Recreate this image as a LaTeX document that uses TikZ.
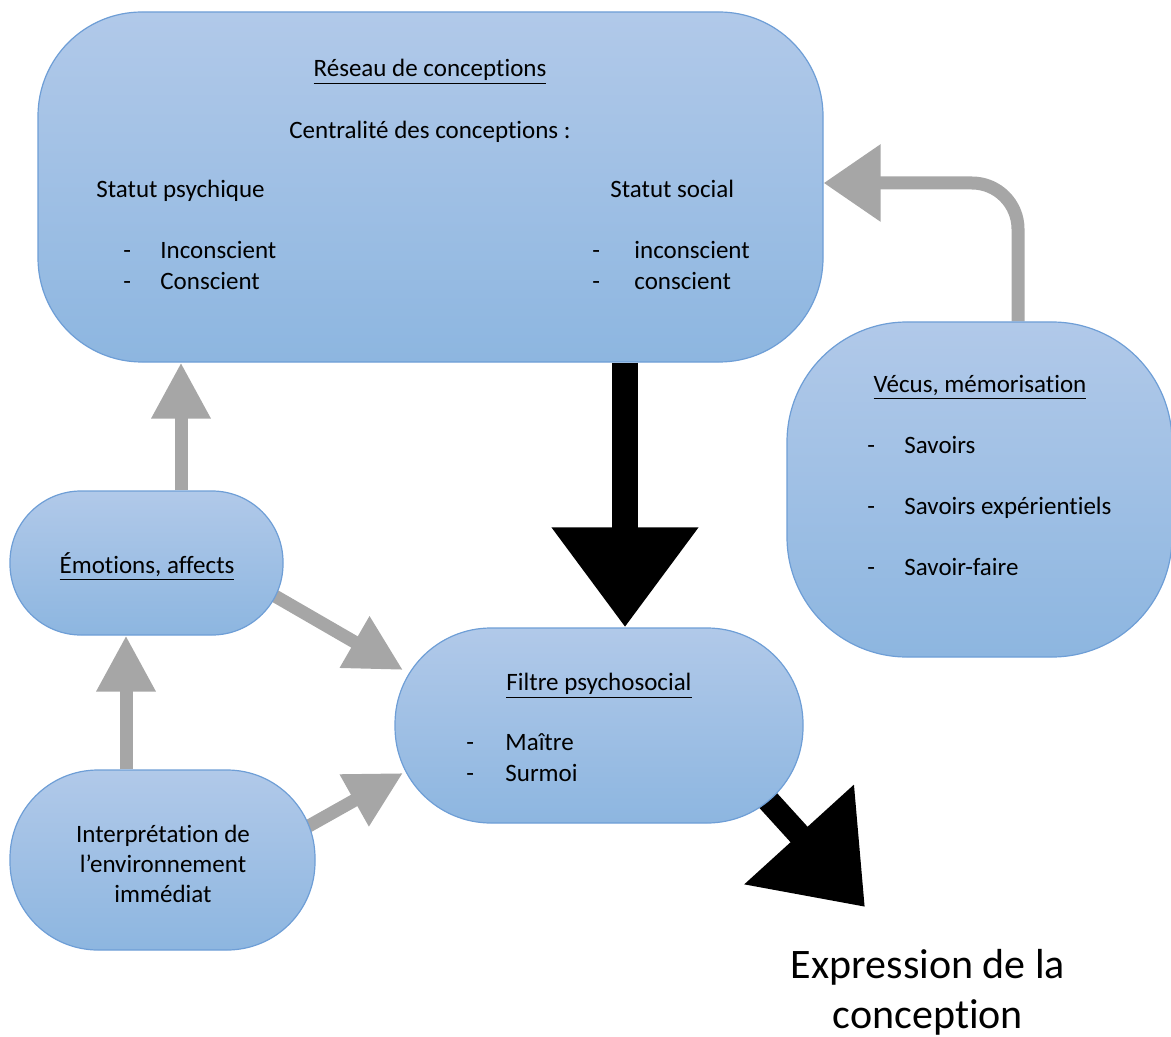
\documentclass[tikz,border=0pt]{standalone}
\usepackage{fontspec}
\setmainfont{Carlito}[Ligatures=NoCommon]
\usetikzlibrary{arrows.meta,backgrounds}
\definecolor{boxtop}{RGB}{177,201,233}
\definecolor{boxbot}{RGB}{141,182,224}
\definecolor{boxline}{RGB}{110,158,214}
\definecolor{arrgray}{RGB}{166,166,166}
\begin{document}
\begin{tikzpicture}[x=0.5pt,y=-0.5pt,
  box/.style={draw=boxline, line width=0.6pt, top color=boxtop, bottom color=boxbot, inner sep=0pt},
  txt/.style={font=\fontsize{12.5}{15.5}\selectfont, inner sep=0pt, text=black, yshift=-2pt},
  garrow/.style={draw=arrgray, line width=6.5pt, -{Triangle[width=28pt,length=28pt]}},
  garrowwide/.style={draw=arrgray, line width=6.5pt, -{Triangle[width=37pt,length=28.5pt]}},
  barrow/.style={draw=black, line width=13pt, -{Triangle[width=70pt,length=50pt]}},
  barrowdiag/.style={draw=black, line width=11.5pt, -{Triangle[width=71pt,length=49pt]}}]
\useasboundingbox (0,0) rectangle (1171,1037);

% boxes
\node[box, minimum width=392.5pt, minimum height=175pt, rounded corners=52pt] (res) at (430.5,187) {};
\node[box, minimum width=136.5pt, minimum height=72pt, rounded corners=35.5pt] (emo) at (146.5,563) {};
\node[box, minimum width=152.5pt, minimum height=90pt, rounded corners=44pt] (int) at (162.5,860) {};
\node[box, minimum width=204pt, minimum height=97.5pt, rounded corners=48pt] (fil) at (599,725.5) {};
\node[box, minimum width=192.5pt, minimum height=167.5pt, rounded corners=60pt] (vec) at (979.5,489.5) {};

% texts: Reseau
\node[txt, anchor=mid] (r1) at (430,68) {\underline{Réseau de conceptions}};
\node[txt, anchor=mid] (r2) at (430,130) {Centralité des conceptions :};
\node[txt, anchor=mid west] (r3) at (96,189) {Statut psychique};
\node[txt, anchor=mid west] (r4) at (610,189) {Statut social};
\node[txt, anchor=mid west] (r5) at (123,250) {-};
\node[txt, anchor=mid west] (r6) at (160,250) {Inconscient};
\node[txt, anchor=mid west] (r7) at (123,281) {-};
\node[txt, anchor=mid west] (r8) at (160,281) {Conscient};
\node[txt, anchor=mid west] (r9) at (592,250) {-};
\node[txt, anchor=mid west] (r10) at (634,250) {inconscient};
\node[txt, anchor=mid west] (r11) at (592,281) {-};
\node[txt, anchor=mid west] (r12) at (634,281) {conscient};

% texts: Emotions
\node[txt, anchor=mid] (e1) at (147,565) {\underline{Émotions, affects}};

% texts: Interpretation
\node[txt, align=center, font=\fontsize{12.5}{15}\selectfont] (i1) at (163,860) {Interprétation de\\l’environnement\\immédiat};

% texts: Filtre
\node[txt, anchor=mid] (f1) at (599,682) {\underline{Filtre psychosocial}};
\node[txt, anchor=mid west] (f2) at (466,742) {-};
\node[txt, anchor=mid west] (f3) at (505,742) {Maître};
\node[txt, anchor=mid west] (f4) at (466,773) {-};
\node[txt, anchor=mid west] (f5) at (505,773) {Surmoi};

% texts: Vecus
\node[txt, anchor=mid] (v1) at (980,384) {\underline{Vécus, mémorisation}};
\node[txt, anchor=mid west] (v2) at (867,445) {-};
\node[txt, anchor=mid west] (v3) at (904,445) {Savoirs};
\node[txt, anchor=mid west] (v4) at (867,506) {-};
\node[txt, anchor=mid west] (v5) at (904,506) {Savoirs expérientiels};
\node[txt, anchor=mid west] (v6) at (867,567) {-};
\node[txt, anchor=mid west] (v7) at (904,567) {Savoir-faire};

% expression
\node[font=\fontsize{21}{25}\selectfont, align=center, inner sep=0pt] (expr) at (928,992) {Expression de la\\conception};

% connector coordinates
\coordinate (a1) at (181,0);
\coordinate (a2) at (126,0);
\coordinate (a5) at (625,0);
\coordinate (a7) at (1018,183);
\coordinate (e3s) at (268,592);
\coordinate (e3t) at (403,670);
\coordinate (e4s) at (298,832);
\coordinate (e4t) at (403,773);
\coordinate (e6s) at (765,797);
\coordinate (e6t) at (865,907);

\begin{scope}[on background layer]
\draw[garrow] (emo.north -| a1) -- (res.south -| a1);
\draw[garrow] (int.north -| a2) -- (emo.south -| a2);
\draw[garrow] (e3s) -- (e3t);
\draw[garrow] (e4s) -- (e4t);
\draw[barrow] (res.south -| a5) -- (fil.north -| a5);
\draw[barrowdiag] (e6s) -- (e6t);
\draw[garrowwide, rounded corners=23pt] (vec.north -| a7) |- (res.east |- a7);
\end{scope}
\end{tikzpicture}
\end{document}
